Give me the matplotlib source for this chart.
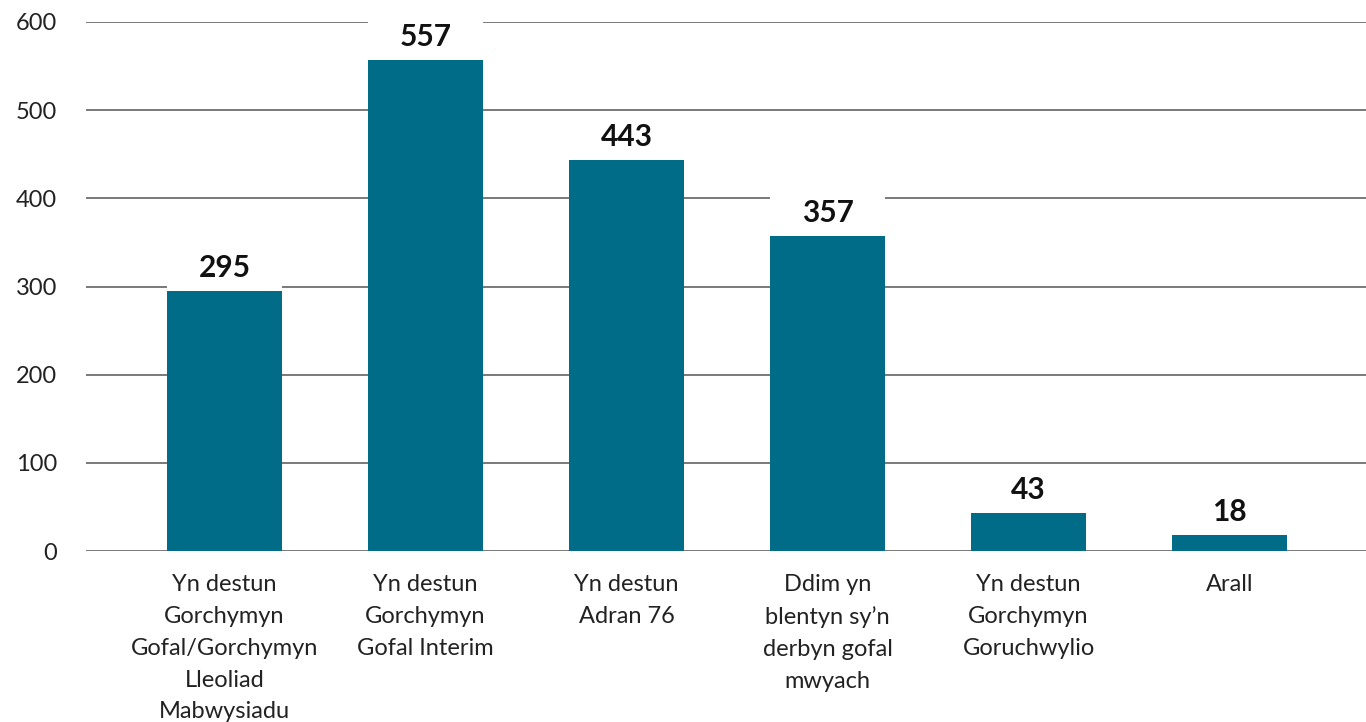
import matplotlib
matplotlib.use("Agg")
import matplotlib.pyplot as plt

categories = [
    "Yn destun\nGorchymyn\nGofal/Gorchymyn\nLleoliad\nMabwysiadu",
    "Yn destun\nGorchymyn\nGofal Interim",
    "Yn destun\nAdran 76",
    "Ddim yn\nblentyn sy\u2019n\nderbyn gofal\nmwyach",
    "Yn destun\nGorchymyn\nGoruchwylio",
    "Arall",
]
values = [295, 557, 443, 357, 43, 18]
yticks = [0, 100, 200, 300, 400, 500, 600]

plt.rcParams['font.family'] = ['Lato', 'DejaVu Sans']

W, H = 1366, 722
fig = plt.figure(figsize=(W / 100, H / 100), dpi=100)
left, right, top_px, bot_px = 86, 1366, 22, 551
ax = fig.add_axes([left / W, (H - bot_px) / H, (right - left) / W, (bot_px - top_px) / H])

bar_color = "#016c88"
width = 0.572
x = list(range(len(values)))

ax.set_axisbelow(True)
ax.yaxis.grid(True, color="#6e6e6e", linewidth=1.3, zorder=0.5)
ax.bar(x, values, width=width, color=bar_color, zorder=2)
# white label backgrounds that interrupt the gridlines
ax.bar(x, [50] * len(values), bottom=values, width=width, color="white", zorder=1.5,
       clip_on=False)
for xi, v in zip(x, values):
    ax.text(xi, v + 26, f"{v}", ha="center", va="center", fontsize=21.5,
            fontweight="bold", color="#111111", zorder=3, clip_on=False)

ax.set_xlim((86 - 224.5) / 201, (1366 - 224.5) / 201)
ax.set_ylim(0, 600)
ax.set_yticks(yticks)
ax.set_yticklabels([str(t) for t in yticks], fontsize=17, color="#222222")
ax.tick_params(axis="y", length=0, pad=21)
ax.set_xticks(x)
ax.set_xticklabels(categories, fontsize=17, color="#222222", linespacing=1.64)
ax.tick_params(axis="x", length=0, pad=16.5)
for s in ax.spines.values():
    s.set_visible(False)

fig.savefig("out.png", dpi=100, facecolor="white")
